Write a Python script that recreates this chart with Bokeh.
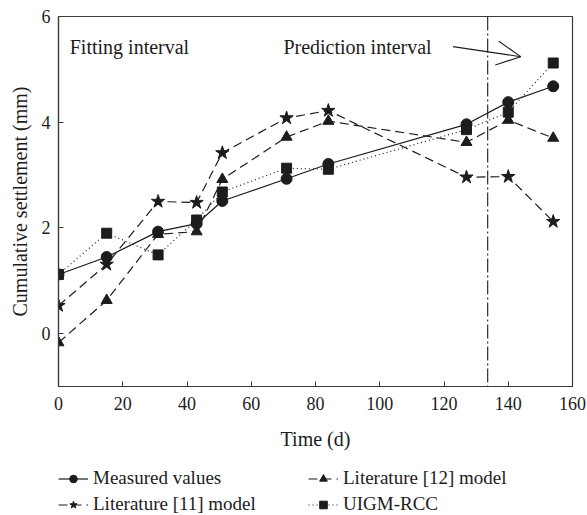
from bokeh.plotting import figure
from bokeh.layouts import column
from bokeh.models import Range1d, FixedTicker, Span, Label, Arrow, OpenHead, Legend, LegendItem
from bokeh.embed import file_html
from bokeh.resources import INLINE

time_d = [0, 15, 31, 43, 51, 71, 84, 127, 140, 154]
measured = [1.12, 1.45, 1.93, 2.08, 2.51, 2.93, 3.21, 3.96, 4.38, 4.68]
lit11 = [0.53, 1.31, 2.50, 2.48, 3.42, 4.08, 4.22, 2.96, 2.97, 2.12]
lit12 = [-0.17, 0.63, 1.88, 1.93, 2.92, 3.72, 4.02, 3.62, 4.04, 3.70]
uigm = [1.12, 1.90, 1.49, 2.15, 2.68, 3.13, 3.11, 3.86, 4.19, 5.12]
x_ticks = [0, 20, 40, 60, 80, 100, 120, 140, 160]
y_ticks = [0, 2, 4, 6]
split_day = 133.6

FONT = "Liberation Serif"
INK = "#1c1c1c"
AX = "#3a3a3a"

p = figure(frame_width=514, frame_height=370, output_backend="svg", toolbar_location=None,
           x_range=Range1d(0, 160), y_range=Range1d(-1, 6),
           min_border_left=58, min_border_right=15, min_border_top=16, min_border_bottom=75)
p.background_fill_color = "white"
p.border_fill_color = "white"
p.grid.visible = False
p.outline_line_color = AX
p.outline_line_width = 1.2

for ax in (p.xaxis[0], p.yaxis[0]):
    ax.axis_line_color = AX
    ax.axis_line_width = 1.2
    ax.major_tick_line_color = AX
    ax.major_tick_in = 5
    ax.major_tick_out = 0
    ax.minor_tick_line_color = None
    ax.major_label_text_font = FONT
    ax.major_label_text_font_size = "18px"
    ax.major_label_text_color = INK
    ax.axis_label_text_font = FONT
    ax.axis_label_text_font_size = "20px"
    ax.axis_label_text_font_style = "normal"
    ax.axis_label_text_color = INK

p.xaxis.ticker = FixedTicker(ticks=x_ticks)
p.yaxis.ticker = FixedTicker(ticks=y_ticks)
p.xaxis.axis_label = "Time (d)"
p.yaxis.axis_label = "Cumulative settlement (mm)"
p.xaxis.major_label_standoff = 10
p.yaxis.major_label_standoff = 8
p.xaxis.axis_label_standoff = 15
p.yaxis.axis_label_standoff = 8

series = [
    ("Measured values", measured, "solid", "circle", 11),
    ("Literature [11] model", lit11, "9 5", "star", 14),
    ("Literature [12] model", lit12, "9 5", "triangle", 11),
    ("UIGM-RCC", uigm, "1 3", "square", 10),
]
for name, ys, dash, marker, size in series:
    p.line(time_d, ys, line_color=INK, line_width=1.2, line_dash=dash)
    p.scatter(time_d, ys, marker=marker, size=size, fill_color=INK, line_color=INK)

p.add_layout(Span(location=split_day, dimension="height", line_color=INK,
                  line_width=1.1, line_dash="14 3 2 3"))

p.add_layout(Label(x=3.5, y=5.43, text="Fitting interval", text_font=FONT,
                   text_font_size="20px", text_color=INK, text_baseline="middle"))
p.add_layout(Label(x=70, y=5.43, text="Prediction interval", text_font=FONT,
                   text_font_size="20px", text_color=INK, text_baseline="middle"))
p.add_layout(Arrow(x_start=122.8, y_start=5.43, x_end=143.9, y_end=5.24,
                   line_color=INK, line_width=1.1,
                   end=OpenHead(size=24, line_color=INK, line_width=1.1)))

# legend-only strip below the chart (series drawn outside its visible range)
q = figure(width=587, height=54, output_backend="svg", toolbar_location=None,
           x_range=Range1d(1000, 1001), y_range=Range1d(1000, 1001),
           x_axis_type=None, y_axis_type=None, min_border=0)
q.grid.visible = False
q.outline_line_color = None
q.background_fill_color = "white"
q.border_fill_color = "white"
items = []
for name, ys, dash, marker, size in series:
    l = q.line(time_d, ys, line_color=INK, line_width=1.2, line_dash=dash)
    s = q.scatter(time_d, ys, marker=marker, size=size - 1, fill_color=INK, line_color=INK)
    items.append(LegendItem(label=name, renderers=[l, s]))

legend = Legend(items=items, ncols=2, location=(0, 0),
                label_text_font=FONT, label_text_font_size="19px", label_text_color=INK,
                glyph_width=30, glyph_height=19, label_standoff=5, spacing=4,
                label_height=19, label_width=211, border_line_color=None,
                background_fill_alpha=0, margin=0, padding=0)
q.add_layout(legend)

open("out.html", "w").write(file_html(column(p, q, spacing=0), INLINE))
